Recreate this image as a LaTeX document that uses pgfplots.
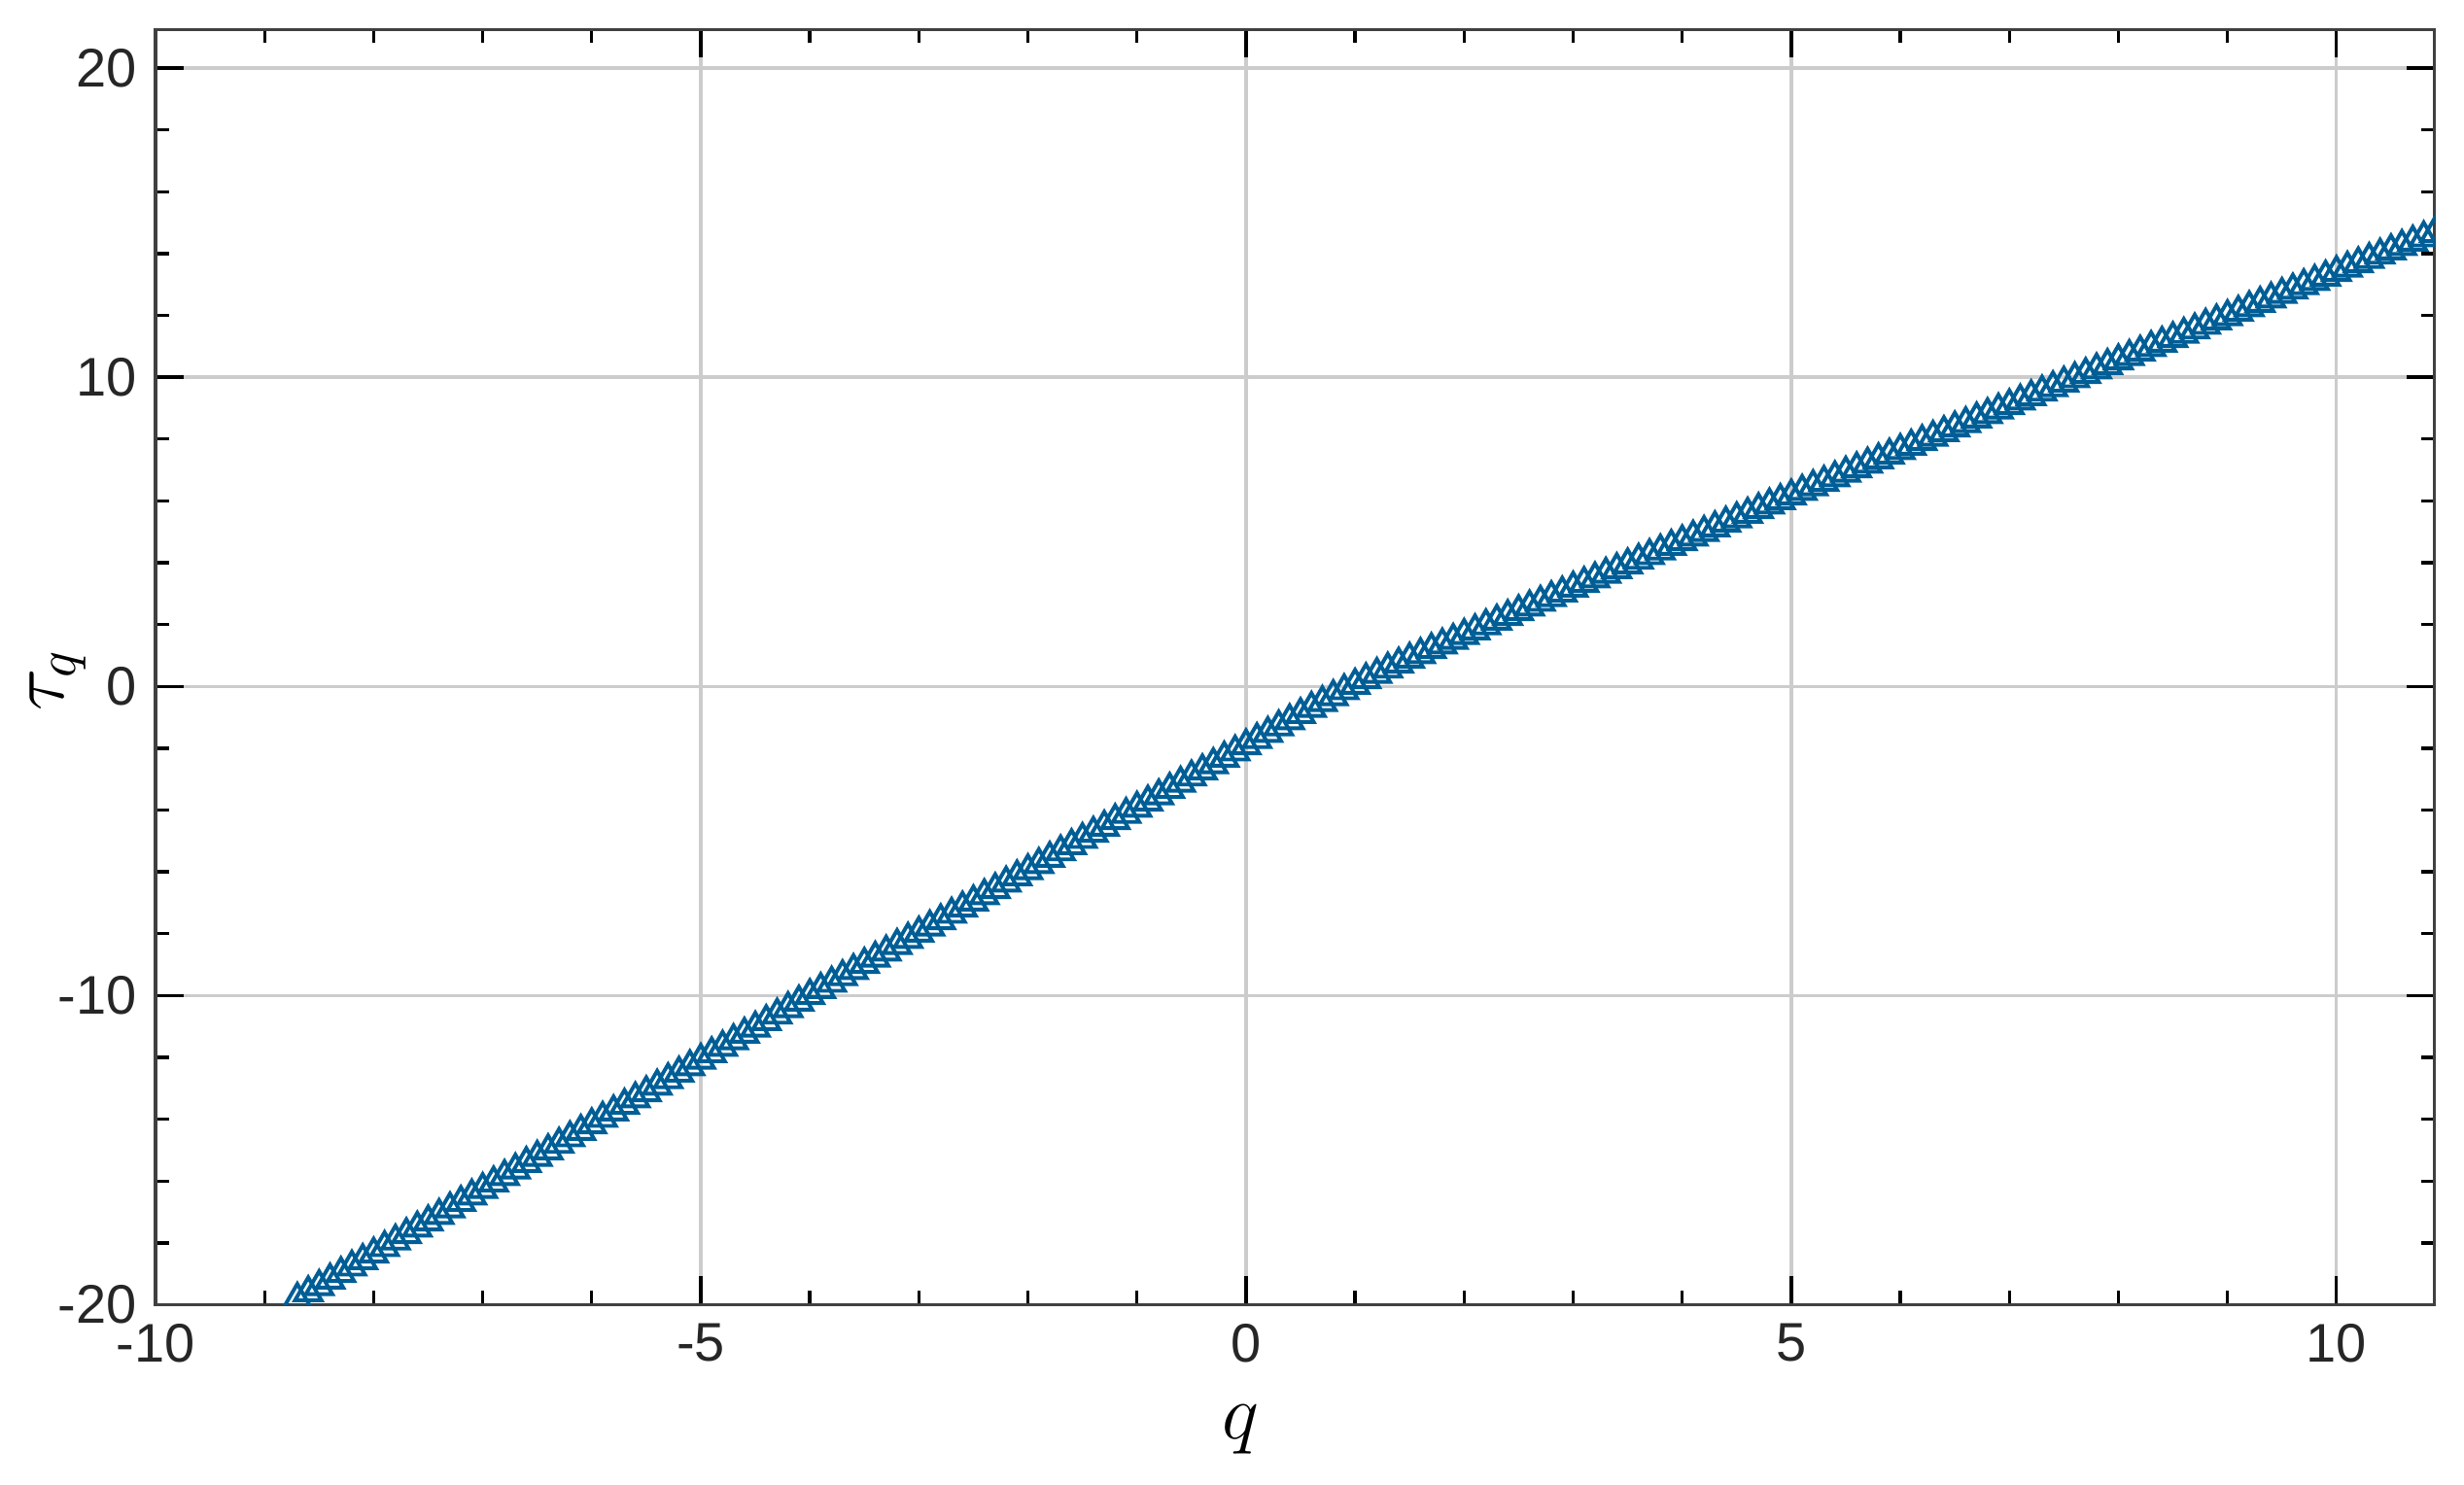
\documentclass[border=0pt]{standalone}
\usepackage{fontspec}
\setmainfont{Liberation Sans}
\usepackage{pgfplots}
\pgfplotsset{compat=1.18}
\usepackage{pgfplotstable}
\definecolor{taublue}{RGB}{0,94,150}

% tau_q, step 0.1 in q
\pgfplotstableread{
q tau
-9.0 -20.45
-8.9 -20.24
-8.8 -20.03
-8.7 -19.82
-8.6 -19.61
-8.5 -19.41
-8.4 -19.20
-8.3 -18.99
-8.2 -18.78
-8.1 -18.57
-8.0 -18.36
-7.9 -18.15
-7.8 -17.94
-7.7 -17.73
-7.6 -17.52
-7.5 -17.32
-7.4 -17.11
-7.3 -16.90
-7.2 -16.69
-7.1 -16.48
-7.0 -16.27
-6.9 -16.06
-6.8 -15.85
-6.7 -15.64
-6.6 -15.43
-6.5 -15.23
-6.4 -15.02
-6.3 -14.81
-6.2 -14.60
-6.1 -14.39
-6.0 -14.18
-5.9 -13.97
-5.8 -13.76
-5.7 -13.55
-5.6 -13.34
-5.5 -13.14
-5.4 -12.93
-5.3 -12.72
-5.2 -12.51
-5.1 -12.30
-5.0 -12.09
-4.9 -11.88
-4.8 -11.67
-4.7 -11.46
-4.6 -11.25
-4.5 -11.05
-4.4 -10.84
-4.3 -10.63
-4.2 -10.42
-4.1 -10.21
-4.0 -10.00
-3.9 -9.80
-3.8 -9.60
-3.7 -9.39
-3.6 -9.19
-3.5 -8.99
-3.4 -8.79
-3.3 -8.59
-3.2 -8.38
-3.1 -8.18
-3.0 -7.98
-2.9 -7.78
-2.8 -7.58
-2.7 -7.37
-2.6 -7.17
-2.5 -6.97
-2.4 -6.77
-2.3 -6.57
-2.2 -6.36
-2.1 -6.16
-2.0 -5.96
-1.9 -5.76
-1.8 -5.56
-1.7 -5.35
-1.6 -5.15
-1.5 -4.95
-1.4 -4.75
-1.3 -4.55
-1.2 -4.34
-1.1 -4.14
-1.0 -3.94
-0.9 -3.74
-0.8 -3.54
-0.7 -3.33
-0.6 -3.13
-0.5 -2.93
-0.4 -2.73
-0.3 -2.53
-0.2 -2.32
-0.1 -2.12
0.0 -1.92
0.1 -1.72
0.2 -1.52
0.3 -1.31
0.4 -1.11
0.5 -0.91
0.6 -0.71
0.7 -0.52
0.8 -0.33
0.9 -0.14
1.0 0.04
1.1 0.22
1.2 0.39
1.3 0.56
1.4 0.72
1.5 0.88
1.6 1.03
1.7 1.19
1.8 1.34
1.9 1.49
2.0 1.65
2.1 1.80
2.2 1.96
2.3 2.11
2.4 2.26
2.5 2.42
2.6 2.57
2.7 2.72
2.8 2.87
2.9 3.02
3.0 3.18
3.1 3.33
3.2 3.48
3.3 3.63
3.4 3.78
3.5 3.93
3.6 4.08
3.7 4.23
3.8 4.38
3.9 4.53
4.0 4.68
4.1 4.83
4.2 4.98
4.3 5.13
4.4 5.28
4.5 5.42
4.6 5.57
4.7 5.72
4.8 5.87
4.9 6.01
5.0 6.16
5.1 6.31
5.2 6.46
5.3 6.60
5.4 6.75
5.5 6.90
5.6 7.04
5.7 7.19
5.8 7.33
5.9 7.48
6.0 7.63
6.1 7.77
6.2 7.92
6.3 8.06
6.4 8.21
6.5 8.36
6.6 8.50
6.7 8.65
6.8 8.79
6.9 8.94
7.0 9.08
7.1 9.23
7.2 9.37
7.3 9.52
7.4 9.66
7.5 9.81
7.6 9.95
7.7 10.09
7.8 10.24
7.9 10.38
8.0 10.53
8.1 10.67
8.2 10.81
8.3 10.96
8.4 11.10
8.5 11.25
8.6 11.39
8.7 11.53
8.8 11.68
8.9 11.82
9.0 11.96
9.1 12.10
9.2 12.25
9.3 12.39
9.4 12.53
9.5 12.68
9.6 12.82
9.7 12.96
9.8 13.10
9.9 13.24
10.0 13.39
10.1 13.53
10.2 13.67
10.3 13.81
10.4 13.95
10.5 14.09
10.6 14.23
10.7 14.37
10.8 14.51
10.9 14.65
11.0 14.79
}\tauq

\begin{document}
\begin{tikzpicture}
\begin{axis}[
  scale only axis,
  width=419pt, height=234.5pt,
  xmin=-10, xmax=10.9,
  ymin=-20, ymax=21.25,
  xtick={-10,-5,0,5,10},
  ytick={-20,-10,0,10,20},
  minor x tick num=4,
  minor y tick num=4,
  tick align=inside,
  major tick length=5.2pt,
  minor tick length=2.5pt,
  every tick/.style={black, line width=0.6pt},
  axis line style={black!75, line width=0.6pt},
  grid=major,
  grid style={black!20, line width=0.6pt},
  tick label style={font=\fontsize{10}{12}\selectfont, text=black!85},
  /pgf/number format/assume math mode=true,
  clip marker paths=true,
  xlabel={$q$},
  ylabel={$\tau_q$},
  label style={font=\fontsize{14}{16}\selectfont},
  xlabel style={at={(axis description cs:0.476,-0.098)}, anchor=center},
  ylabel style={at={(axis description cs:-0.043,0.49)}, anchor=center},
]
  \addplot[only marks, mark=triangle, mark size=2.8pt, taublue, line width=0.7pt] table[x=q, y=tau] {\tauq};
  \coordinate (bl) at (rel axis cs:0,0);
  \coordinate (tr) at (rel axis cs:1,1);
\end{axis}
\pgfresetboundingbox
\path[use as bounding box] ([shift={(-28.6pt,-33pt)}]bl) rectangle ([shift={(5.4pt,5.4pt)}]tr);
\end{tikzpicture}
\end{document}
